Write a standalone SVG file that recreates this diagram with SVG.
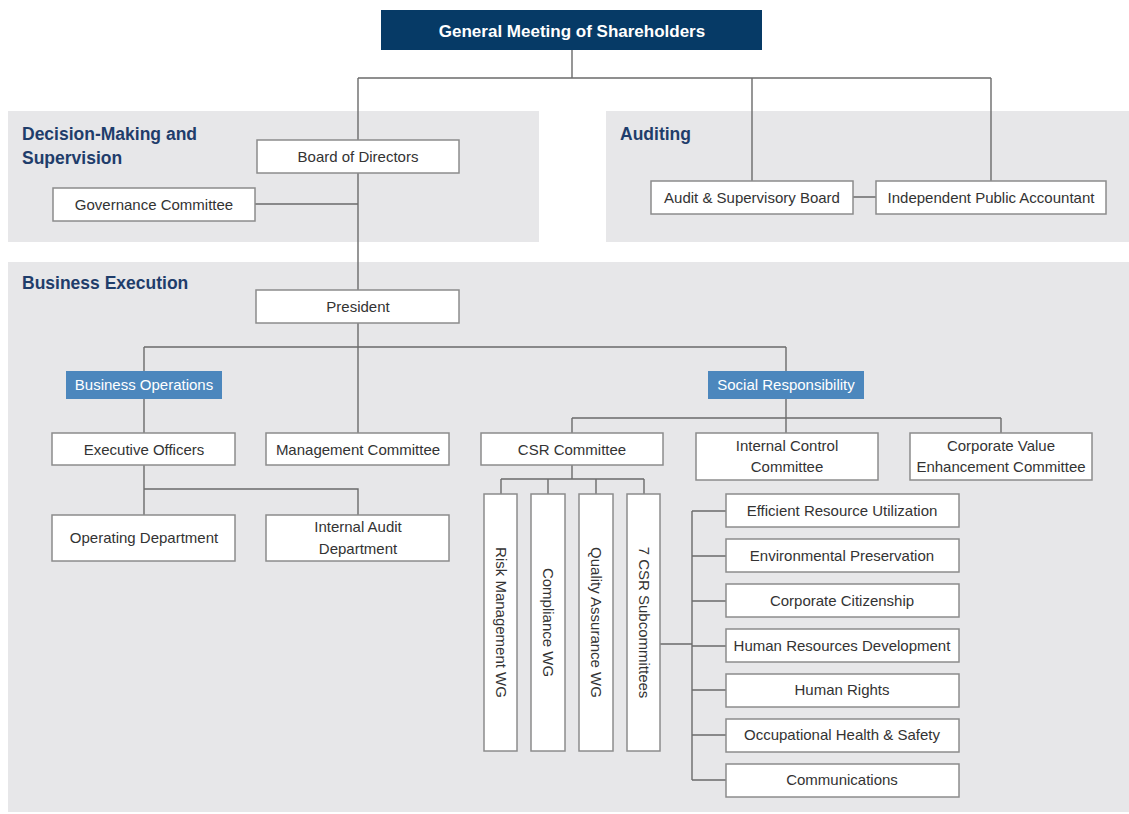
<svg xmlns="http://www.w3.org/2000/svg" width="1129" height="814" viewBox="0 0 1129 814">
<style>
.panel{fill:#e7e7e9}
.box{fill:#ffffff;stroke:#8c8c8c;stroke-width:1.5}
.t{font-family:"Liberation Sans",Arial,sans-serif;font-size:15px;fill:#333333;text-anchor:middle}
.w{fill:#ffffff}
.h{font-family:"Liberation Sans",Arial,sans-serif;font-size:17.5px;font-weight:bold;fill:#1f3d6b}
.tag{fill:#4c87bd}
.c{stroke:#6b6b6b;stroke-width:1.4;fill:none}
</style>
<rect width="1129" height="814" fill="#ffffff"/>
<g id="panels">
<rect class="panel" x="8" y="111" width="531" height="131"/>
<rect class="panel" x="606" y="111" width="523" height="131"/>
<rect class="panel" x="8" y="262" width="1121" height="550"/>
<text class="h" x="22" y="140">Decision-Making and</text>
<text class="h" x="22" y="164">Supervision</text>
<text class="h" x="620" y="140">Auditing</text>
<text class="h" x="22" y="289">Business Execution</text>
</g>
<g id="connectors">
<path class="c" d="M572 50V78M358 78H991M358 78V140M358 173V290M255 204H358M752 78V181M991 78V181M853 197H876"/>
<path class="c" d="M358 323V433M144 347H786M144 347V371M786 347V371M144 399V433M144 465V515M144 489H358V515"/>
<path class="c" d="M786 399V433M572 418H1001M572 418V433M1001 418V433M572 465V479M501 479H644M501 479V494M548 479V494M596 479V494M644 479V494"/>
<path class="c" d="M660 644H692M692 511V780M692 511H726M692 556H726M692 601H726M692 646H726M692 690H726M692 735H726M692 780H726"/>
</g>
<g id="gms">
<rect x="381" y="10" width="381" height="40" fill="#063a66"/>
<text class="t w" x="572" y="37" style="font-size:17px;font-weight:bold">General Meeting of Shareholders</text>
</g>
<g id="board"><rect class="box" x="257" y="140" width="202" height="33"/><text class="t" x="358" y="162">Board of Directors</text></g>
<g id="governance"><rect class="box" x="53" y="188" width="202" height="33"/><text class="t" x="154" y="210">Governance Committee</text></g>
<g id="audit-board"><rect class="box" x="651" y="181" width="202" height="33"/><text class="t" x="752" y="203">Audit &amp; Supervisory Board</text></g>
<g id="ipa"><rect class="box" x="876" y="181" width="230" height="33"/><text class="t" x="991" y="203">Independent Public Accountant</text></g>
<g id="president"><rect class="box" x="256" y="290" width="203" height="33"/><text class="t" x="358" y="312">President</text></g>
<g id="business-operations"><rect class="tag" x="66" y="371" width="156" height="28"/><text class="t w" x="144" y="390">Business Operations</text></g>
<g id="social-responsibility"><rect class="tag" x="708" y="371" width="156" height="28"/><text class="t w" x="786" y="390">Social Responsibility</text></g>
<g id="executive-officers"><rect class="box" x="52" y="433" width="183" height="32"/><text class="t" x="144" y="455">Executive Officers</text></g>
<g id="management-committee"><rect class="box" x="266" y="433" width="183" height="32"/><text class="t" x="358" y="455">Management Committee</text></g>
<g id="operating-department"><rect class="box" x="52" y="515" width="183" height="46"/><text class="t" x="144" y="543">Operating Department</text></g>
<g id="internal-audit"><rect class="box" x="266" y="515" width="183" height="46"/><text class="t" x="358" y="532">Internal Audit</text><text class="t" x="358" y="554">Department</text></g>
<g id="csr-committee"><rect class="box" x="481" y="433" width="182" height="32"/><text class="t" x="572" y="455">CSR Committee</text></g>
<g id="internal-control"><rect class="box" x="696" y="433" width="182" height="47"/><text class="t" x="787" y="451">Internal Control</text><text class="t" x="787" y="472">Committee</text></g>
<g id="corporate-value"><rect class="box" x="910" y="433" width="182" height="47"/><text class="t" x="1001" y="451">Corporate Value</text><text class="t" x="1001" y="472">Enhancement Committee</text></g>
<g id="risk-wg"><rect class="box" x="484" y="494" width="33" height="257"/><text class="t" transform="translate(500.5 622.5) rotate(90)" x="0" y="5">Risk Management WG</text></g>
<g id="compliance-wg"><rect class="box" x="531" y="494" width="34" height="257"/><text class="t" transform="translate(548 622.5) rotate(90)" x="0" y="5">Compliance WG</text></g>
<g id="quality-wg"><rect class="box" x="579" y="494" width="34" height="257"/><text class="t" transform="translate(596 622.5) rotate(90)" x="0" y="5">Quality Assurance WG</text></g>
<g id="csr-subcommittees"><rect class="box" x="627" y="494" width="33" height="257"/><text class="t" transform="translate(643.5 622.5) rotate(90)" x="0" y="5">7 CSR Subcommittees</text></g>
<g id="efficient"><rect class="box" x="726" y="494" width="233" height="33"/><text class="t" x="842" y="516">Efficient Resource Utilization</text></g>
<g id="environmental"><rect class="box" x="726" y="539" width="233" height="33"/><text class="t" x="842" y="561">Environmental Preservation</text></g>
<g id="citizenship"><rect class="box" x="726" y="584" width="233" height="33"/><text class="t" x="842" y="606">Corporate Citizenship</text></g>
<g id="hr-development"><rect class="box" x="726" y="629" width="233" height="33"/><text class="t" x="842" y="651">Human Resources Development</text></g>
<g id="human-rights"><rect class="box" x="726" y="674" width="233" height="33"/><text class="t" x="842" y="695">Human Rights</text></g>
<g id="ohs"><rect class="box" x="726" y="719" width="233" height="33"/><text class="t" x="842" y="740">Occupational Health &amp; Safety</text></g>
<g id="communications"><rect class="box" x="726" y="764" width="233" height="33"/><text class="t" x="842" y="785">Communications</text></g>
</svg>
